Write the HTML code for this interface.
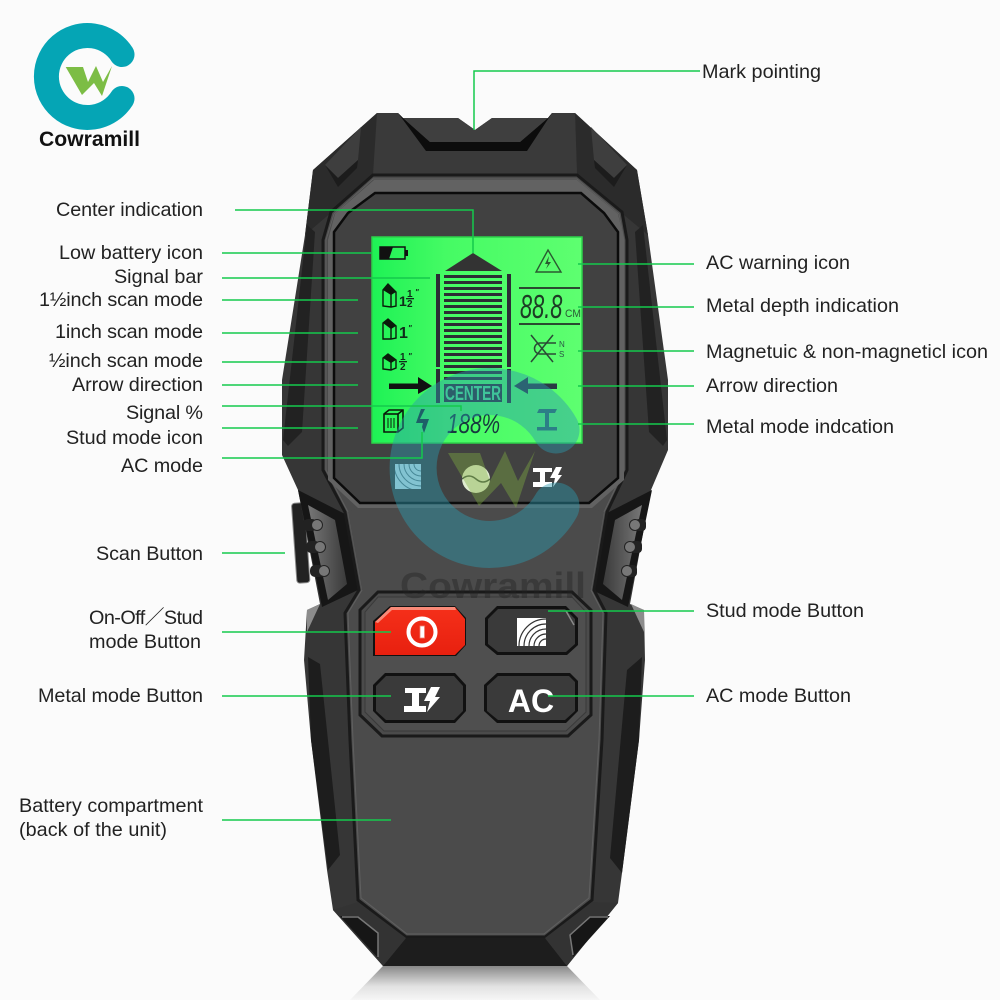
<!DOCTYPE html>
<html><head><meta charset="utf-8"><style>
html,body{margin:0;padding:0;background:#fbfbfb}
svg{display:block}
.l{font-family:"Liberation Sans","Noto Sans CJK SC",sans-serif;font-size:19.8px;fill:#222}
.g{stroke:#14c94c;stroke-width:1.5;fill:none}
.lc{font-family:"Liberation Sans",sans-serif;fill:#102a1a}
</style></head><body>
<svg width="1000" height="1000" viewBox="0 0 1000 1000" xmlns="http://www.w3.org/2000/svg">
<defs>
<linearGradient id="refl" x1="0" y1="0" x2="0" y2="1"><stop offset="0" stop-color="#888"/><stop offset=".6" stop-color="#e2e2e2"/><stop offset="1" stop-color="#f6f6f6"/></linearGradient>
<linearGradient id="red" x1="0" y1="0" x2="0" y2="1"><stop offset="0" stop-color="#f5301a"/><stop offset="1" stop-color="#e8200f"/></linearGradient>
<linearGradient id="side" x1="0" y1="0" x2="1" y2="0"><stop offset="0" stop-color="#777"/><stop offset="1" stop-color="#3a3a3a"/></linearGradient>
<linearGradient id="sider" x1="1" y1="0" x2="0" y2="0"><stop offset="0" stop-color="#777"/><stop offset="1" stop-color="#3a3a3a"/></linearGradient>
<linearGradient id="lcd" x1="0" y1="0" x2="1" y2="0"><stop offset="0" stop-color="#1ef255"/><stop offset=".35" stop-color="#45fb64"/><stop offset="1" stop-color="#5eff70"/></linearGradient>
<clipPath id="c1"><rect x="395" y="464" width="26" height="25"/></clipPath>
<clipPath id="c2"><rect x="517" y="618" width="29" height="28"/></clipPath>
</defs>
<rect width="1000" height="1000" fill="#fbfbfb"/>

<!-- reflection -->
<polygon points="383,966 567,966 600,1000 350,1000" fill="url(#refl)"/>

<!-- scan wheel -->
<rect x="294" y="503" width="13" height="80" rx="3" fill="#222" stroke="#888" stroke-width="1" transform="rotate(-4 300 540)"/>

<!-- body -->
<polygon points="377,113 398,113 403,118 458,118 475,130 492,118 548,118 552,113 575,113 637,170 648,235 668,380 668,450 651,490 630,604 644,610 645,660 639,740 622,873 618,903 567,966 383,966 333,910 327,870 311,740 304,660 307,610 320,604 298,490 282,455 282,380 305,235 313,170" fill="#363636"/>
<!-- head side facets -->
<polygon points="377,113 376,175 340,205 305,235 313,170" fill="#2b2b2b"/>
<polygon points="575,113 577,175 612,205 648,235 637,170" fill="#2b2b2b"/>
<polygon points="361,127 325,165 338,178 358,160" fill="#3e3e3e"/>
<polygon points="591,127 627,165 614,178 594,160" fill="#3e3e3e"/>
<polygon points="325,165 338,178 358,160 357,168 338,187" fill="#1c1c1c"/>
<polygon points="627,165 614,178 594,160 595,168 614,187" fill="#1c1c1c"/>
<!-- head centre -->
<polygon points="377,113 398,113 403,118 458,118 475,130 492,118 548,118 552,113 575,113 577,175 373,175" fill="#3a3a3a"/>
<polygon points="398,113 426,151 527,151 552,113 548,118 520,142 430,142 403,118" fill="#0c0c0c"/>
<polygon points="403,118 458,118 475,130 492,118 548,118 520,142 430,142" fill="#3f3f3f"/>

<!-- upper side grips -->
<polygon points="307,225 315,232 302,432 288,446 283,440" fill="#222"/>
<polygon points="643,225 635,232 649,432 663,446 667,440" fill="#222"/>
<!-- lower side grips -->
<polygon points="308,657 320,664 340,855 328,870 311,740" fill="#1d1d1d"/>
<polygon points="642,657 627,670 610,858 622,873 639,740" fill="#1d1d1d"/>

<!-- side diagonal pieces with dots -->
<polygon points="298,490 345,514 358,590 322,607" fill="#161616"/>
<polygon points="652,490 605,514 592,590 628,607" fill="#161616"/>
<polygon points="308,505 335,520 347,584 328,600" fill="url(#side)"/>
<polygon points="642,505 615,520 603,584 622,600" fill="url(#sider)"/>
<polygon points="307,610 320,604 307,632" fill="#8c8c8c"/>
<polygon points="644,610 631,604 644,632" fill="#8c8c8c"/>
<g fill="#222">
<rect x="303" y="519" width="14" height="12" rx="5"/><rect x="306" y="541" width="14" height="12" rx="5"/><rect x="310" y="565" width="14" height="12" rx="5"/>
<rect x="635" y="519" width="11" height="12" rx="4"/><rect x="630" y="541" width="12" height="12" rx="4"/><rect x="627" y="565" width="10" height="12" rx="4"/>
</g>
<g fill="#777" stroke="#222">
<circle cx="317" cy="525" r="5.5"/><circle cx="320" cy="547" r="5.5"/><circle cx="324" cy="571" r="5.5"/>
<circle cx="635" cy="525" r="5.5"/><circle cx="630" cy="547" r="5.5"/><circle cx="627" cy="571" r="5.5"/>
</g>

<!-- face -->
<polygon points="373,175 577,175 622,212 627,240 627,470 607,512 594,590 606,613 602,740 592,900 545,937 406,937 358,900 350,740 345,613 359,590 345,512 323,470 323,240 331,212" fill="#4b4b4b" stroke="#1a1a1a" stroke-width="3"/>
<polygon points="373,179 577,179 619,214 624,240 624,470 604,512 591,590 603,613 599,740 589,898 544,934 407,934 361,898 353,740 348,613 362,590 348,512 326,470 326,240 334,214" fill="#4b4b4b" stroke="#606060" stroke-width="1"/>
<!-- bezel band + screen panel -->
<polygon points="374,180 577,180 618,214 624,240 624,480 592,508 358,508 328,480 328,240 335,214" fill="#626262"/>
<polygon points="375,193 581,193 604,213 618,232 618,478 589,503 360,503 334,478 334,232 348,213" fill="#414141" stroke="#0b0b0b" stroke-width="2.5"/>
<polygon points="358,508 592,508 604,512 591,590 362,590 348,512" fill="#4b4b4b"/>

<!-- bottom facets -->
<polygon points="406,938 545,938 567,966 383,966" fill="#1d1d1d"/>
<polygon points="358,902 406,938 383,966 333,910" fill="#333"/>
<polygon points="592,902 545,938 567,966 618,903" fill="#333"/>
<polygon points="340,916 358,916 378,933 378,958" fill="#161616"/>
<polygon points="610,916 590,916 570,935 573,957" fill="#161616"/>
<polyline points="342,917 358,917 378,933 378,957" fill="none" stroke="#777" stroke-width="1.5"/>
<polyline points="608,917 590,917 570,935 573,955" fill="none" stroke="#777" stroke-width="1.5"/>

<!-- LCD -->
<rect x="372" y="237" width="210" height="206" fill="url(#lcd)"/>
<rect x="372" y="237" width="210" height="206" fill="none" stroke="#2dd24a" stroke-width="1.5"/>
<!-- battery -->
<rect x="380" y="247" width="25" height="12" fill="none" stroke="#111" stroke-width="1.5"/>
<polygon points="380,247 393,247 389,259 380,259" fill="#111"/>
<rect x="405" y="250" width="3" height="6" fill="#111"/>
<!-- signal -->
<polygon points="473,253 502,271 445,271" fill="#333"/>
<g fill="#2c2c34">
<rect x="436" y="274" width="4" height="93"/><rect x="436" y="369" width="4" height="34"/>
<rect x="507" y="274" width="4" height="93"/><rect x="507" y="369" width="4" height="34"/>
<rect x="444" y="275" width="58" height="3"/><rect x="444" y="281" width="58" height="3"/><rect x="444" y="287" width="58" height="3"/><rect x="444" y="293" width="58" height="3"/><rect x="444" y="299" width="58" height="3"/><rect x="444" y="305" width="58" height="3"/><rect x="444" y="311" width="58" height="3"/><rect x="444" y="317" width="58" height="3"/><rect x="444" y="323" width="58" height="3"/><rect x="444" y="329" width="58" height="3"/><rect x="444" y="335" width="58" height="3"/><rect x="444" y="341" width="58" height="3"/><rect x="444" y="347" width="58" height="3"/><rect x="444" y="353" width="58" height="3"/><rect x="444" y="359" width="58" height="3"/><rect x="444" y="365" width="58" height="3"/><rect x="444" y="371" width="58" height="3"/><rect x="444" y="377" width="58" height="3"/>
<rect x="444" y="384" width="58" height="18"/>
</g>
<text x="445" y="400" font-family="Liberation Sans,sans-serif" font-size="20" font-weight="bold" fill="#4fe88a" textLength="56" lengthAdjust="spacingAndGlyphs">CENTER</text>
<!-- arrows -->
<polygon points="389,383.5 418,383.5 418,377 432,386 418,394 418,389 389,389" fill="#111"/>
<polygon points="514,386 528,377 528,383.5 557,383.5 557,389 528,389 528,394" fill="#2a3a44"/>
<!-- wall icons -->
<g fill="none" stroke="#0a1a0a" stroke-width="1.4">
<polygon points="383,290 388,284 396,292 396,306 391,307 383,306"/><line x1="391" y1="294" x2="391" y2="307"/>
<polygon points="383,323 388,319 396,326 396,338 391,339 383,339"/><line x1="391" y1="328" x2="391" y2="339"/>
<polygon points="383,358 388,354 396,360 396,368 391,370 383,369"/><line x1="391" y1="362" x2="391" y2="370"/>
</g>
<polygon points="383,290 388,284 396,292 391,295" fill="#0a1a0a"/>
<polygon points="383,323 388,319 396,326 391,329" fill="#0a1a0a"/>
<polygon points="383,358 388,354 396,360 391,363" fill="#0a1a0a"/>
<g class="lc" font-weight="bold">
<text x="399" y="306" font-size="14">1</text><text x="407" y="297" font-size="10">1</text><rect x="406" y="298" width="8" height="1.3"/><text x="407" y="307" font-size="10">2</text><text x="415" y="295" font-size="8" font-style="italic">"</text>
<text x="399" y="338" font-size="16">1</text><text x="408" y="331" font-size="8" font-style="italic">"</text>
<text x="400" y="360" font-size="10">1</text><rect x="399" y="361" width="8" height="1.3"/><text x="400" y="370" font-size="10">2</text><text x="408" y="359" font-size="8" font-style="italic">"</text>
</g>
<!-- warning -->
<polygon points="548,250 561,272 536,272" fill="none" stroke="#2a5a30" stroke-width="1.4"/>
<polygon points="549,256 545,264 548,264 546,269 551,262 548,262" fill="#2a5a30"/>
<!-- depth -->
<rect x="519" y="287" width="61" height="2" fill="#2a4a30"/><rect x="519" y="323" width="61" height="2" fill="#2a4a30"/>
<text transform="translate(520 318) scale(.66 1)" font-family="Liberation Sans,sans-serif" font-size="33" font-style="italic" fill="#1d3d25">88.8</text>
<text x="565" y="317" font-family="Liberation Sans,sans-serif" font-size="11" fill="#2a5a35" textLength="16" lengthAdjust="spacingAndGlyphs">CM</text>
<!-- magnet -->
<g fill="none" stroke="#2a4a35" stroke-width="1.5">
<line x1="531" y1="335" x2="553" y2="362"/><line x1="553" y1="335" x2="531" y2="362"/>
<path d="M548 343 h-8 a5.500 5.500 0 0 0 0 11 h8"/><line x1="548" y1="343" x2="556" y2="343"/><line x1="548" y1="354" x2="556" y2="354"/>
</g>
<text x="559" y="347" font-family="Liberation Sans,sans-serif" font-size="8" fill="#2a5a45">N</text>
<text x="559" y="357" font-family="Liberation Sans,sans-serif" font-size="8" fill="#2a5a45">S</text>
<!-- stud icon -->
<g fill="none" stroke="#0a1a0a" stroke-width="1.6">
<polygon points="384,414 389,410 403,410 403,428 398,432 384,432"/><line x1="384" y1="414" x2="398" y2="414"/><line x1="398" y1="414" x2="398" y2="432"/><line x1="398" y1="414" x2="403" y2="410"/>
<path d="M388 418 v10 M391 418 v10 M394 418 v10" stroke-width="1"/>
</g>
<!-- bolt -->
<polygon points="421,409 425,409 420,419 429,419 424,433 422,427 423,423 416,423" fill="#123030"/>
<!-- 188% -->
<text transform="translate(447 433) scale(.74 1)" font-family="Liberation Sans,sans-serif" font-size="28" font-style="italic" fill="#17393f">188%</text>
<!-- I-beam -->
<g fill="#2c6a68"><polygon points="539,409 557,409 555,413 537,413"/><rect x="545" y="413" width="4" height="14"/><rect x="537" y="427" width="20" height="3.500"/></g>

<!-- panel icons -->
<rect x="395" y="464" width="26" height="25" fill="#c9e6ee"/>
<g fill="none" stroke="#5b7a85" stroke-width="1" clip-path="url(#c1)"><circle cx="421" cy="464" r="7"/><circle cx="421" cy="464" r="12"/><circle cx="421" cy="464" r="17"/><circle cx="421" cy="464" r="22"/><circle cx="421" cy="464" r="27"/></g>
<circle cx="476" cy="479" r="14" fill="#dfeccf"/>
<path d="M462 479 q7 -6 14 0 t14 0" fill="none" stroke="#4a5a4a" stroke-width="1.5"/>
<g fill="#fff"><rect x="533" y="468" width="19" height="4"/><rect x="540" y="472" width="5" height="11"/><rect x="533" y="482" width="19" height="5"/><polygon points="556,467 562,467 558,475 562,475 553,487 555,478 550,478"/></g>

<!-- buttons frame -->
<polygon points="378,592 572,592 591,610 591,715 568,736 382,736 360,715 360,610" fill="#4b4b4b" stroke="#1a1a1a" stroke-width="3"/>
<polygon points="378,597 572,597 586,612 586,712 566,731 384,731 365,712 365,612" fill="#4f4f4f" stroke="#3a3a3a" stroke-width="1"/>
<!-- buttons -->
<polygon points="390,606 455,606 466,618 466,645 456,656 373,656 373,621" fill="#111"/>
<polygon points="391,607 455,607 465,619 465,645 455,655 375,655 375,622" fill="url(#red)"/>
<polygon points="391,607 455,607 456,610 392,610 378,623 375,622" fill="#f98a78"/>
<circle cx="422" cy="632" r="13.500" fill="none" stroke="#fff" stroke-width="4"/>
<rect x="420" y="626" width="4.500" height="12" fill="#fff" stroke="#f08070" stroke-width=".8"/>

<polygon points="497,606 566,606 578,618 578,645 567,655 497,655 485,645 485,618" fill="#111"/>
<polygon points="498,609 565,609 575,619 575,644 566,652 498,652 488,644 488,619" fill="#3a3a3a"/>
<rect x="517" y="618" width="29" height="28" fill="#fff"/>
<g fill="none" stroke="#333" stroke-width="1.2" clip-path="url(#c2)"><circle cx="546" cy="646" r="7"/><circle cx="546" cy="646" r="12"/><circle cx="546" cy="646" r="17"/><circle cx="546" cy="646" r="22"/><circle cx="546" cy="646" r="27"/></g>
<line x1="566" y1="611" x2="574" y2="625" stroke="#8a8a8a" stroke-width="1.5"/>

<polygon points="385,673 455,673 466,685 466,711 455,723 385,723 373,711 373,685" fill="#111"/>
<polygon points="386,676 454,676 463,686 463,711 454,720 386,720 376,711 376,686" fill="#3a3a3a"/>
<g fill="#fff"><rect x="405" y="688" width="21" height="5"/><rect x="412" y="693" width="7" height="13"/><rect x="404" y="706" width="22" height="6"/><polygon points="431,687 440,687 435,697 440,697 427,712 430,701 424,701"/></g>

<polygon points="497,673 570,673 578,681 578,711 566,723 497,723 484,711 484,685" fill="#111"/>
<polygon points="498,676 569,676 575,682 575,711 565,720 498,720 487,711 487,686" fill="#3a3a3a"/>
<text x="531" y="712" text-anchor="middle" font-family="Liberation Sans,sans-serif" font-size="32" font-weight="bold" fill="#fff">AC</text>

<!-- watermark -->
<path d="M556 430 A76.500 76.500 0 1 0 556 506" fill="none" stroke="#2c98ad" stroke-width="47" stroke-linecap="round" opacity=".45"/>
<polygon points="448,453 480,453 490,481 505,451 518,481 535,451 516,508 501,483 479,506" fill="#7fb040" opacity=".4"/>
<text x="400" y="598" font-family="Liberation Sans,sans-serif" font-size="36" font-weight="bold" fill="#222" opacity=".4" textLength="186" lengthAdjust="spacingAndGlyphs">Cowramill</text>

<!-- connectors -->
<g class="g">
<polyline points="700,71 474,71 474,130"/>
<polyline points="235,210 473,210 473,253"/>
<line x1="222" y1="253" x2="372" y2="253"/>
<line x1="222" y1="278" x2="430" y2="278"/>
<line x1="222" y1="300" x2="358" y2="300"/>
<line x1="222" y1="333" x2="358" y2="333"/>
<line x1="222" y1="362" x2="358" y2="362"/>
<line x1="222" y1="385" x2="358" y2="385"/>
<polyline points="222,406 461,406 461,411"/>
<line x1="222" y1="428" x2="358" y2="428"/>
<polyline points="222,458 422,458 422,432"/>
<line x1="222" y1="553" x2="285" y2="553"/>
<line x1="222" y1="632" x2="391" y2="632"/>
<line x1="222" y1="696" x2="391" y2="696"/>
<line x1="222" y1="820" x2="391" y2="820"/>
<line x1="694" y1="264" x2="578" y2="264"/>
<line x1="694" y1="307" x2="578" y2="307"/>
<line x1="694" y1="351" x2="578" y2="351"/>
<line x1="694" y1="386" x2="578" y2="386"/>
<line x1="694" y1="424" x2="578" y2="424"/>
<line x1="694" y1="611" x2="548" y2="611"/>
<line x1="694" y1="696" x2="548" y2="696"/>
</g>

<!-- labels -->
<g class="l">
<text x="702" y="78" textLength="119">Mark pointing</text>
<text x="56" y="216" textLength="147">Center indication</text>
<text x="59" y="259" textLength="144">Low battery icon</text>
<text x="114" y="283" textLength="89">Signal bar</text>
<text x="39" y="306" textLength="164">1½inch scan mode</text>
<text x="55" y="338" textLength="148">1inch scan mode</text>
<text x="49" y="367" textLength="154">½inch scan mode</text>
<text x="72" y="391" textLength="131">Arrow direction</text>
<text x="126" y="419" textLength="77">Signal %</text>
<text x="66" y="444" textLength="137">Stud mode icon</text>
<text x="121" y="472" textLength="82">AC mode</text>
<text x="96" y="560" textLength="107">Scan Button</text>
<text x="89" y="624" textLength="114">On-Off／Stud</text>
<text x="89" y="648" textLength="112">mode Button</text>
<text x="38" y="702" textLength="165">Metal mode Button</text>
<text x="19" y="812" textLength="184">Battery compartment</text>
<text x="19" y="836" textLength="148">(back of the unit)</text>
<text x="706" y="269" textLength="144">AC warning icon</text>
<text x="706" y="312" textLength="193">Metal depth indication</text>
<text x="706" y="358" textLength="282">Magnetuic &amp; non-magneticl icon</text>
<text x="706" y="392" textLength="132">Arrow direction</text>
<text x="706" y="433" textLength="188">Metal mode indcation</text>
<text x="706" y="617" textLength="158">Stud mode Button</text>
<text x="706" y="702" textLength="145">AC mode Button</text>
</g>

<!-- logo -->
<path d="M122 54.500 A41 41 0 1 0 122 98.500" fill="none" stroke="#05a5b5" stroke-width="25" stroke-linecap="round"/>
<polygon points="65.700,67 83,67 88,82 96,66 103,82 112,66 102,96 94,83 82,95" fill="#7cbd45"/>
<text x="39" y="146" font-family="Liberation Sans,sans-serif" font-size="21" font-weight="bold" fill="#111" textLength="101" lengthAdjust="spacingAndGlyphs">Cowramill</text>
</svg>
</body></html>
